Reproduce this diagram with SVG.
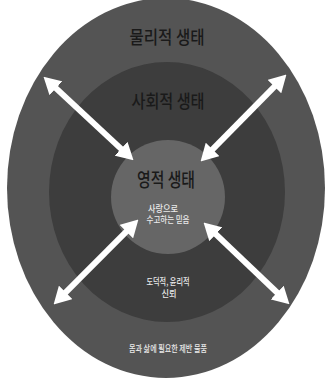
<svg xmlns="http://www.w3.org/2000/svg" width="327" height="379" viewBox="0 0 327 379">
<style>
.t{font-family:"Noto Sans CJK KR","Noto Sans",sans-serif;fill:#1a1a1a;text-anchor:middle;font-weight:500}
.s{font-family:"Noto Sans CJK KR","Noto Sans",sans-serif;fill:#eaeaea;text-anchor:middle;font-size:9px;font-weight:500}
.arr{stroke:#ffffff;stroke-width:6;fill:none;marker-start:url(#ah);marker-end:url(#ah)}
</style>
<defs>
<marker id="ah" markerUnits="userSpaceOnUse" markerWidth="17" markerHeight="19" refX="2" refY="9.5" orient="auto-start-reverse" viewBox="0 0 17 19">
<path d="M0,0 L17,9.5 L0,19 Z" fill="#ffffff"/>
</marker>
</defs>
<rect width="327" height="379" fill="#ffffff"/>
<g id="outer">
<ellipse cx="166" cy="188" rx="159" ry="190" fill="#545454"/>
<text class="t" x="167" y="44" font-size="18" textLength="75" lengthAdjust="spacingAndGlyphs">물리적 생태</text>
<text class="s" x="168" y="351.5" textLength="78" lengthAdjust="spacingAndGlyphs">몸과 삶에 필요한 제반 물품</text>
</g>
<g id="middle">
<ellipse cx="167" cy="192" rx="118" ry="130" fill="#3d3d3d"/>
<text class="t" x="168" y="108" font-size="18" textLength="73" lengthAdjust="spacingAndGlyphs">사회적 생태</text>
<text class="s" x="168" y="284.5" textLength="43" lengthAdjust="spacingAndGlyphs">도덕적, 윤리적</text>
<text class="s" x="169" y="297" textLength="15" lengthAdjust="spacingAndGlyphs">신뢰</text>
</g>
<g id="inner">
<ellipse cx="168" cy="197" rx="57" ry="57" fill="#666666"/>
<text class="t" x="166" y="187" font-size="19" textLength="58" lengthAdjust="spacingAndGlyphs">영적 생태</text>
<text class="s" x="163" y="211.5" textLength="30" lengthAdjust="spacingAndGlyphs">사랑으로</text>
<text class="s" x="168" y="223" textLength="43" lengthAdjust="spacingAndGlyphs">수고하는 믿음</text>
</g>
<g id="connectors">
<line class="arr" x1="54.5" y1="86.9" x2="122.5" y2="150.1"/>
<line class="arr" x1="275.9" y1="85.2" x2="211.1" y2="150.8"/>
<line class="arr" x1="64.2" y1="293.8" x2="127.8" y2="230.2"/>
<line class="arr" x1="278.6" y1="294" x2="214.4" y2="232.9"/>
</g>
</svg>
